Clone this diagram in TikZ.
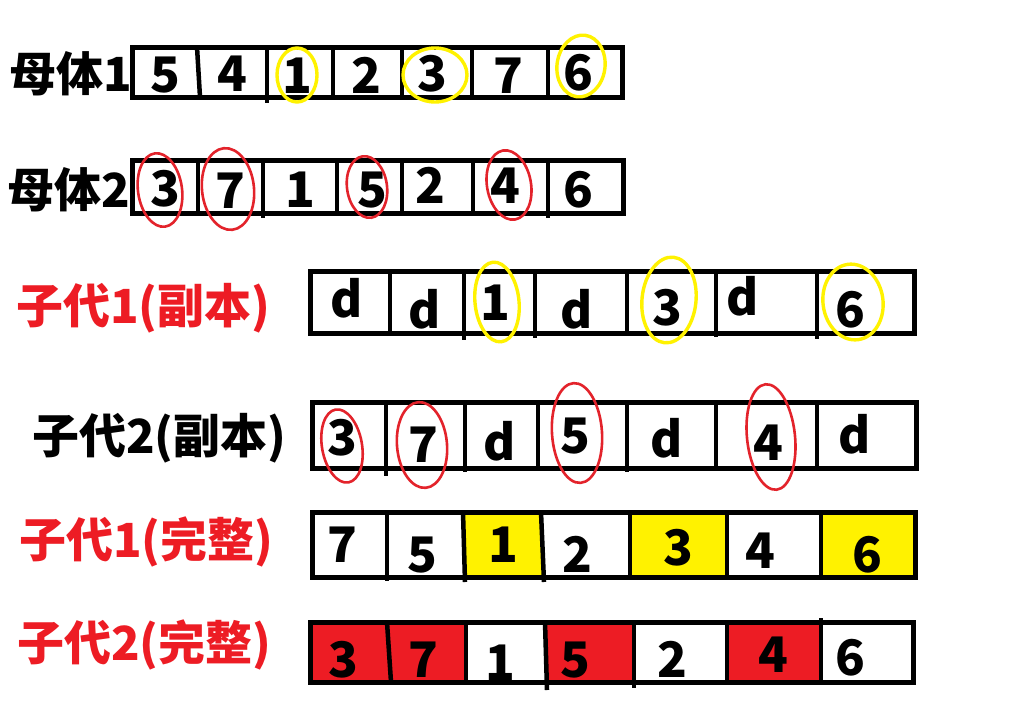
\documentclass[tikz,border=0pt]{standalone}
\usepackage{fontspec}
\setmainfont{Noto Sans CJK SC}
\definecolor{pred}{HTML}{ED1C24}
\definecolor{pyel}{HTML}{FFF200}
\definecolor{cred}{HTML}{E3232B}
\tikzset{
  boxline/.style={line width=5pt},
  divline/.style={line width=4.5pt},
  digit/.style={font=\fontsize{49}{49}\selectfont\bfseries, anchor=base, inner sep=0pt},
  lab/.style={font=\fontsize{47}{47}\selectfont\bfseries, anchor=base west, inner sep=0pt},
  ycirc/.style={draw=pyel, line width=3.4pt},
  rcirc/.style={draw=cred, line width=2.6pt},
}
\begin{document}
\begin{tikzpicture}[x=1pt,y=-1pt]
\fill[white] (0,0) rectangle (1017,704);
\useasboundingbox (0,0) rectangle (1017,704);

% ---------- labels ----------
\node[lab] (L1) at (9,91) {母体1};
\node[lab] (L2) at (7,207) {母体2};
\node[lab, text=pred] (L3) at (16,323) {子代1(副本)};
\node[lab] (L4) at (32,453) {子代2(副本)};
\node[lab, text=pred] (L5) at (19,557) {子代1(完整)};
\node[lab, text=pred] (L6) at (17,660) {子代2(完整)};

% ---------- row 1 ----------
\draw[boxline] (132,47) rectangle (622,97);
\draw[divline] (197,47) -- (200,97);
\draw[divline] (267,47) -- (267,103);
\draw[divline] (333,47) -- (333,97);
\draw[divline] (402,47) -- (402,100);
\draw[divline] (472,47) -- (472,97);
\draw[divline] (548,47) -- (548,97);
\node[digit] (a1) at (165,92) {5};
\node[digit] (a2) at (232,91) {4};
\node[digit] (a3) at (297,93) {1};
\node[digit] (a4) at (366,93) {2};
\node[digit] (a5) at (432,91) {3};
\node[digit] (a6) at (508,93) {7};
\node[digit] (a7) at (578,90) {6};
\draw[ycirc] (297,75) ellipse [x radius=20, y radius=27];
\draw[ycirc] (435,75) ellipse [x radius=32, y radius=27];
\draw[ycirc, rotate around={-8:(581,66)}] (581,66) ellipse [x radius=24, y radius=31];

% ---------- row 2 ----------
\draw[boxline] (132,160) rectangle (623,213);
\draw[divline] (198,160) -- (198,213);
\draw[divline] (263,160) -- (263,218);
\draw[divline] (337,160) -- (337,213);
\draw[divline] (402,160) -- (402,213);
\draw[divline] (473,160) -- (473,213);
\draw[divline] (548,160) -- (548,218);
\node[digit] (b1) at (165,206) {3};
\node[digit] (b2) at (230,208) {7};
\node[digit] (b3) at (300,207) {1};
\node[digit] (b4) at (372,207) {5};
\node[digit] (b5) at (430,203) {2};
\node[digit] (b6) at (505,203) {4};
\node[digit] (b7) at (578,207) {6};
\draw[rcirc, rotate around={8:(160,190)}] (160,190) ellipse [x radius=22, y radius=37];
\draw[rcirc, rotate around={6:(228,189)}] (228,189) ellipse [x radius=26, y radius=41];
\draw[rcirc, rotate around={8:(367,187)}] (367,187) ellipse [x radius=20, y radius=31];
\draw[rcirc, rotate around={10:(509,185)}] (509,185) ellipse [x radius=22, y radius=35];

% ---------- row 3 ----------
\draw[boxline] (310,271) rectangle (914,333);
\draw[divline] (390,271) -- (390,333);
\draw[divline] (464,271) -- (464,340);
\draw[divline] (535,271) -- (535,338);
\draw[divline] (627,271) -- (627,333);
\draw[divline] (716,271) -- (716,337);
\draw[divline] (817,271) -- (817,339);
\node[digit] (c1) at (347,317) {d};
\node[digit] (c2) at (425,328) {d};
\node[digit] (c3) at (495,320) {1};
\node[digit] (c4) at (577,328) {d};
\node[digit] (c5) at (667,325) {3};
\node[digit] (c6) at (743,315) {d};
\node[digit] (c7) at (850,327) {6};
\draw[ycirc, rotate around={6:(497,302)}] (497,302) ellipse [x radius=22, y radius=40];
\draw[ycirc, rotate around={-6:(669,300)}] (669,300) ellipse [x radius=27, y radius=43];
\draw[ycirc, rotate around={8:(853,302)}] (853,302) ellipse [x radius=30, y radius=38];

% ---------- row 4 ----------
\draw[boxline] (312,402) rectangle (916,468);
\draw[divline] (386,402) -- (386,476);
\draw[divline] (465,402) -- (465,472);
\draw[divline] (538,402) -- (538,468);
\draw[divline] (627,402) -- (627,472);
\draw[divline] (716,402) -- (716,471);
\draw[divline] (817,402) -- (817,468);
\node[digit] (d1) at (342,455) {3};
\node[digit] (d2) at (423,462) {7};
\node[digit] (d3) at (500,460) {d};
\node[digit] (d4) at (575,453) {5};
\node[digit] (d5) at (667,457) {d};
\node[digit] (d6) at (768,460) {4};
\node[digit] (d7) at (855,453) {d};
\draw[rcirc, rotate around={10:(342,446)}] (342,446) ellipse [x radius=20, y radius=37];
\draw[rcirc, rotate around={5:(422,445)}] (422,445) ellipse [x radius=25, y radius=43];
\draw[rcirc, rotate around={4:(577,433)}] (577,433) ellipse [x radius=25, y radius=50];
\draw[rcirc, rotate around={6:(771,437)}] (771,437) ellipse [x radius=24, y radius=53];

% ---------- row 5 ----------
\fill[pyel] (463,512) rectangle (542,577);
\fill[pyel] (630,512) rectangle (727,577);
\fill[pyel] (821,512) rectangle (915,577);
\draw[boxline] (312,512) rectangle (915,577);
\draw[divline] (387,512) -- (387,581);
\draw[divline] (463,512) -- (465,582);
\draw[divline] (541,512) -- (544,582);
\draw[divline] (630,512) -- (630,580);
\draw[divline] (727,512) -- (727,577);
\draw[divline] (821,512) -- (821,580);
\node[digit] (e1) at (342,562) {7};
\node[digit] (e2) at (422,572) {5};
\node[digit] (e3) at (503,562) {1};
\node[digit] (e4) at (577,572) {2};
\node[digit] (e5) at (678,565) {3};
\node[digit] (e6) at (760,568) {4};
\node[digit] (e7) at (867,572) {6};

% ---------- row 6 ----------
\fill[pred] (310,622) rectangle (466,682);
\fill[pred] (546,622) rectangle (634,682);
\fill[pred] (727,622) rectangle (821,682);
\draw[boxline] (310,622) rectangle (913,682);
\draw[divline] (387,622) -- (391,682);
\draw[divline] (466,622) -- (466,682);
\draw[divline] (545,622) -- (547,690);
\draw[divline] (634,622) -- (634,688);
\draw[divline] (727,622) -- (727,682);
\draw[divline] (821,618) -- (821,682);
\node[digit] (f1) at (343,677) {3};
\node[digit] (f2) at (423,677) {7};
\node[digit] (f3) at (500,680) {1};
\node[digit] (f4) at (575,677) {5};
\node[digit] (f5) at (672,677) {2};
\node[digit] (f6) at (773,672) {4};
\node[digit] (f7) at (850,675) {6};
\end{tikzpicture}
\end{document}
